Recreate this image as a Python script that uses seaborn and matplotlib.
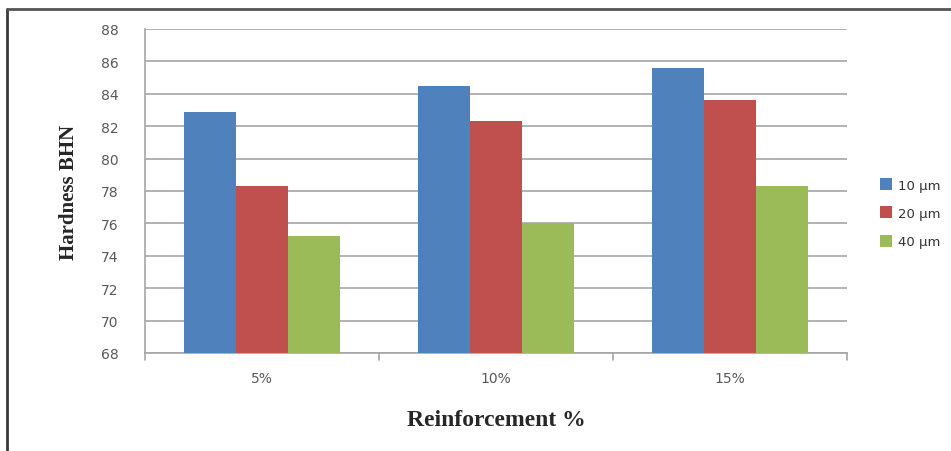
import matplotlib
matplotlib.use("Agg")
import matplotlib.pyplot as plt
from matplotlib.lines import Line2D
import pandas as pd
import seaborn as sns

# data
reinforcement = ["5%", "10%", "15%"]
sizes = ["10 µm", "20 µm", "40 µm"]
hard_10um = [82.9, 84.5, 85.6]
hard_20um = [78.3, 82.3, 83.6]
hard_40um = [75.2, 76.0, 78.3]

blue = "#4F81BD"
red = "#C0504D"
green = "#9BBB59"
grid = "#A6A6A6"
tick_col = "#595959"

df = pd.DataFrame({
    "Reinforcement": reinforcement * 3,
    "Size": [s for s in sizes for _ in reinforcement],
    "Hardness": hard_10um + hard_20um + hard_40um,
})

sns.set_style("white")
fig = plt.figure(figsize=(9.51, 4.52), dpi=100)
W, H = 951, 452
ax = fig.add_axes([145 / W, 1 - 354 / H, (847 - 145) / W, (354 - 30) / H])

sns.barplot(data=df, x="Reinforcement", y="Hardness", hue="Size",
            order=reinforcement, hue_order=sizes,
            palette=[blue, red, green], width=0.665, gap=0,
            saturation=1, ax=ax, legend=False, zorder=3, linewidth=0)

ax.set_ylim(68, 88)
ax.set_xlim(-0.5, 2.5)
ax.set_yticks(range(68, 89, 2))
ax.yaxis.grid(True, color=grid, linewidth=1.2, zorder=0)
ax.set_axisbelow(True)

for s in ["top", "right"]:
    ax.spines[s].set_visible(False)
for s in ["left", "bottom"]:
    ax.spines[s].set_color(grid)
    ax.spines[s].set_linewidth(1.2)

ax.tick_params(axis="y", length=6, color=grid, width=1.2, labelsize=10,
               labelcolor=tick_col, pad=13)
ax.tick_params(axis="x", length=0, labelsize=10, labelcolor=tick_col, pad=13)
# category separator ticks
for xb in [-0.5, 0.5, 1.5, 2.5]:
    ax.plot([xb, xb], [68, 67.55], color=grid, lw=1.2, clip_on=False)

ax.set_xlabel("Reinforcement %", fontfamily="Liberation Serif",
              fontweight="bold", fontsize=17, labelpad=17)
ax.set_ylabel("Hardness BHN", fontfamily="Liberation Serif",
              fontweight="bold", fontsize=15, labelpad=16)

handles = [Line2D([], [], marker="s", linestyle="", markersize=8,
                  markerfacecolor=c, markeredgewidth=0) for c in [blue, red, green]]
fig.legend(handles, sizes, loc="upper left", bbox_to_anchor=(868 / W, 1 - 168 / H),
           frameon=False, fontsize=9.5, handlelength=1.0, handletextpad=0.4,
           labelspacing=1.15, labelcolor="#333333")

# outer frame (left and top edges)
fig.add_artist(Line2D([7 / W, 7 / W], [0, 1 - 10 / H], transform=fig.transFigure,
                      color="#3a3a3a", lw=2))
fig.add_artist(Line2D([7 / W, 1], [1 - 10 / H, 1 - 10 / H], transform=fig.transFigure,
                      color="#555555", lw=2))

fig.savefig("out.png", dpi=100)
